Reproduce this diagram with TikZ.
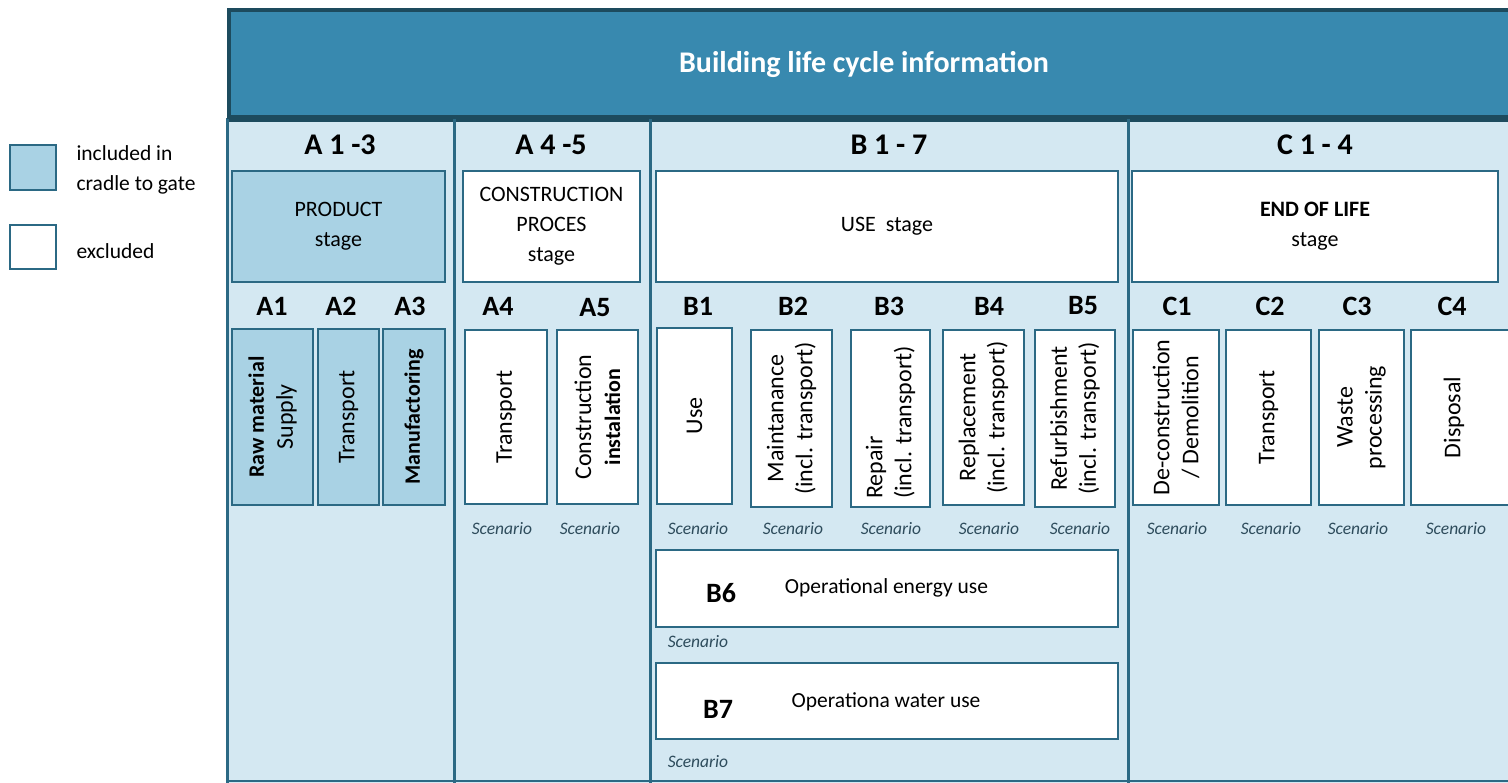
\documentclass[tikz,border=0pt]{standalone}
\usepackage{fontspec}
\setmainfont{Carlito}
\definecolor{hdr}{HTML}{3889AF}
\definecolor{hdrdark}{HTML}{1D4B5E}
\definecolor{bgc}{HTML}{D4E8F2}
\definecolor{lbox}{HTML}{A9D2E4}
\definecolor{bord}{HTML}{2B6984}
\definecolor{scenc}{HTML}{2E4C5C}
\newcommand\vb[1]{{\fontsize{22}{29}\selectfont\bfseries #1}}
\begin{document}
\begin{tikzpicture}[x=1pt,y=-1pt,
  frame/.style={rectangle, draw=bord, line width=2pt, inner sep=0pt},
  incl/.style={frame, fill=lbox},
  excl/.style={frame, fill=white},
  stagetxt/.style={align=center, font=\fontsize{22}{30}\selectfont},
  vtxt/.style={rotate=90, align=center, font=\fontsize{24}{29}\selectfont},
  scen/.style={font=\fontsize{17.5}{18}\selectfont\itshape, text=scenc},
  sub/.style={font=\fontsize{28}{30}\selectfont\bfseries},
  sect/.style={font=\fontsize{30}{32}\selectfont\bfseries},
  legtxt/.style={anchor=west, align=left, font=\fontsize{21.5}{30}\selectfont},
  divider/.style={draw=bord, line width=3pt}
]
\useasboundingbox (0,0) rectangle (1508,783);
% backgrounds
\fill[bgc] (227,118) rectangle (1520,783);
\node[rectangle, draw=hdrdark, fill=hdr, line width=4pt, minimum width=1300pt, minimum height=110pt, anchor=north west, inner sep=0pt] (header) at (227,8) {};
\node[text=white, font=\fontsize{30}{32}\selectfont\bfseries] (title) at (864,64) {Building life cycle information};
% dividers
\coordinate (d0t) at (227,118); \coordinate (d0b) at (227,783);
\coordinate (d1t) at (454,118); \coordinate (d1b) at (454,783);
\coordinate (d2t) at (650,118); \coordinate (d2b) at (650,783);
\coordinate (d3t) at (1128,118); \coordinate (d3b) at (1128,783);
\coordinate (bl) at (227,781); \coordinate (br) at (1520,781);
\coordinate (hl) at (227,117); \coordinate (hr) at (1520,117);
\draw[divider] (d0t) -- (d0b);
\draw[divider] (d1t) -- (d1b);
\draw[divider] (d2t) -- (d2b);
\draw[divider] (d3t) -- (d3b);
\draw[draw=bord, line width=1.5pt] (bl) -- (br);
\draw[draw=hdrdark, line width=4pt] (hl) -- (hr);
% legend
\node[incl, minimum width=46pt, minimum height=45pt] (leg1) at (33,167.5) {};
\node[legtxt] (leg1t) at (73,170) {included in\\cradle to gate};
\node[excl, minimum width=46pt, minimum height=44pt] (leg2) at (33,247) {};
\node[legtxt] (leg2t) at (73,251) {excluded};
% section titles
\node[sect] (sA13) at (340,145) {A 1 -3};
\node[sect] (sA45) at (551,145) {A 4 -5};
\node[sect] (sB17) at (889,145) {B 1 - 7};
\node[sect] (sC14) at (1315,145) {C 1 - 4};
% stage boxes
\node[incl, minimum width=213pt, minimum height=111pt] (prod) at (338.5,226.5) {};
\node[stagetxt] (prodt) at (prod.center) {PRODUCT\\stage};
\node[excl, minimum width=177pt, minimum height=111pt] (cons) at (551.5,226.5) {};
\node[stagetxt] (const) at (cons.center) {CONSTRUCTION\\PROCES\\stage};
\node[excl, minimum width=462pt, minimum height=111pt] (use) at (887,226.5) {};
\node[stagetxt] (uset) at (use.center) {USE\ \ stage};
\node[excl, minimum width=366pt, minimum height=111pt] (eol) at (1315,226.5) {};
\node[stagetxt] (eolt) at (eol.center) {\textbf{END OF LIFE}\\stage};
% sub labels
\node[sub] (lA1) at (272,306) {A1};
\node[sub] (lA2) at (341,306) {A2};
\node[sub] (lA3) at (410,306) {A3};
\node[sub] (lA4) at (498,306) {A4};
\node[sub] (lA5) at (595,308) {A5};
\node[sub] (lB1) at (698,306) {B1};
\node[sub] (lB2) at (793,306) {B2};
\node[sub] (lB3) at (889,306) {B3};
\node[sub] (lB4) at (989,306) {B4};
\node[sub] (lB5) at (1083,306) {B5};
\node[sub] (lC1) at (1177,306) {C1};
\node[sub] (lC2) at (1270,306) {C2};
\node[sub] (lC3) at (1357,306) {C3};
\node[sub] (lC4) at (1452,306) {C4};
% module boxes
\node[incl, minimum width=81pt, minimum height=175pt] (bA1) at (272.5,417) {};
\node[vtxt] (tA1) at (bA1.center) {\vb{Raw material}\\Supply};
\node[incl, minimum width=61pt, minimum height=175pt] (bA2) at (348.5,417) {};
\node[vtxt] (tA2) at (bA2.center) {Transport};
\node[incl, minimum width=62pt, minimum height=175pt] (bA3) at (414,417) {};
\node[vtxt] (tA3) at (bA3.center) {\vb{Manufactoring}};
\node[excl, minimum width=82pt, minimum height=174pt] (bA4) at (506,417) {};
\node[vtxt] (tA4) at (bA4.center) {Transport};
\node[excl, minimum width=81pt, minimum height=174pt] (bA5) at (597.5,417) {};
\node[vtxt] (tA5) at (bA5.center) {Construction\\\vb{instalation}};
\node[excl, minimum width=75pt, minimum height=176pt] (bB1) at (694.5,416) {};
\node[vtxt] (tB1) at (bB1.center) {Use};
\node[excl, minimum width=81pt, minimum height=177pt] (bB2) at (791.5,418.5) {};
\node[vtxt] (tB2) at (bB2.center) {Maintanance\\(incl. transport)};
\node[excl, minimum width=79pt, minimum height=177pt] (bB3) at (890.5,418.5) {};
\node[vtxt, align=left] (tB3) at ([yshift=-4pt]bB3.center) {Repair\\(incl. transport)};
\node[excl, minimum width=81pt, minimum height=175pt] (bB4) at (983.5,417.5) {};
\node[vtxt] (tB4) at (bB4.center) {Replacement\\(incl. transport)};
\node[excl, minimum width=80pt, minimum height=177pt] (bB5) at (1075,418.5) {};
\node[vtxt] (tB5) at (bB5.center) {Refurbishment\\(incl. transport)};
\node[excl, minimum width=86pt, minimum height=175pt] (bC1) at (1176,417.5) {};
\node[vtxt] (tC1) at (bC1.center) {De-construction\\/ Demolition};
\node[excl, minimum width=85pt, minimum height=175pt] (bC2) at (1268.5,417.5) {};
\node[vtxt] (tC2) at (bC2.center) {Transport};
\node[excl, minimum width=85pt, minimum height=175pt] (bC3) at (1361.5,417.5) {};
\node[vtxt] (tC3) at (bC3.center) {Waste\\processing};
\node[excl, minimum width=98pt, minimum height=175pt] (bC4) at (1460,417.5) {};
\node[vtxt] (tC4) at (1454,417.5) {Disposal};
% scenario labels
\foreach \x/\n in {502/sA4,590/sA5,698/sB1,793/sB2,891/sB3,989/sB4,1080/sB5,1177/sC1,1271/sC2,1358/sC3,1456/sC4}
  \node[scen] (\n) at (\x,529) {Scenario};
% B6, B7
\node[excl, minimum width=462pt, minimum height=77pt] (bB6) at (887,588.5) {};
\node[sub] (lB6) at (721,593) {B6};
\node[font=\fontsize{21.5}{24}\selectfont] (tB6) at (886.5,588) {Operational energy use};
\node[scen] (sB6) at (698,642) {Scenario};
\node[excl, minimum width=462pt, minimum height=76pt] (bB7) at (887,701) {};
\node[sub] (lB7) at (718,709) {B7};
\node[font=\fontsize{21.5}{24}\selectfont] (tB7) at (886,702) {Operationa water use};
\node[scen] (sB7) at (698,762) {Scenario};
\end{tikzpicture}
\end{document}
